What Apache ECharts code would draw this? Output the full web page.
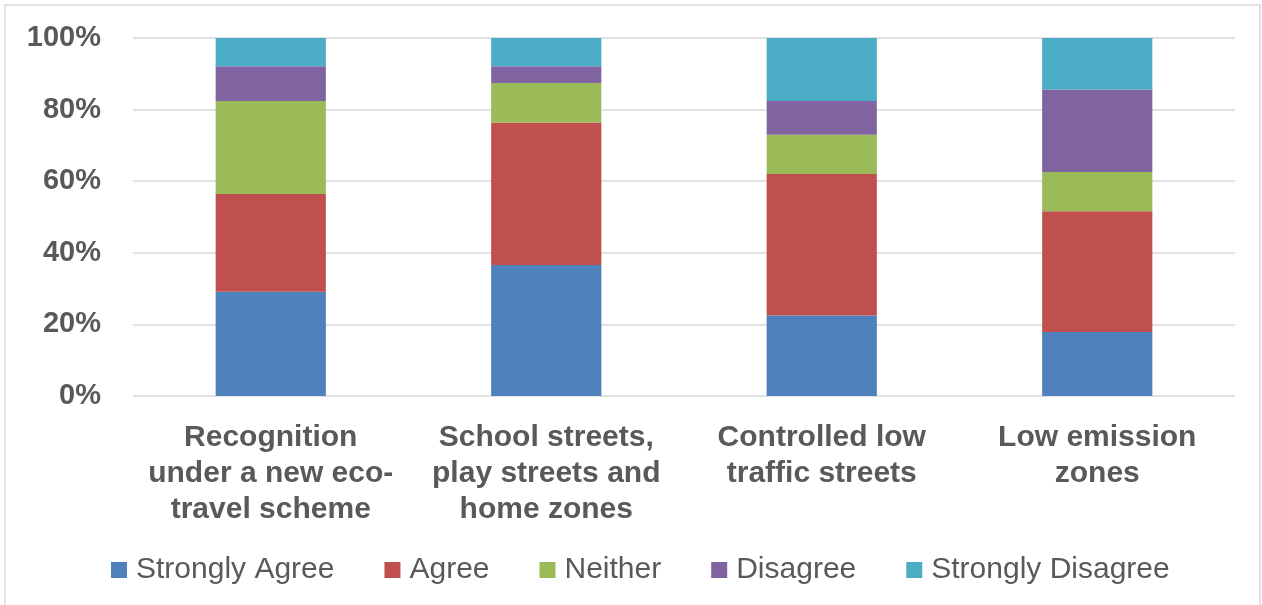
<!DOCTYPE html>
<html>
<head>
<meta charset="utf-8">
<script src="https://cdn.jsdelivr.net/npm/echarts@6/dist/echarts.min.js"></script>
<style>
html,body{margin:0;padding:0;background:#fff;}
#chart{width:1262px;height:605px;}
</style>
</head>
<body>
<div id="chart"></div>
<script>
const categories = [
  "Recognition\nunder a new eco-\ntravel scheme",
  "School streets,\nplay streets and\nhome zones",
  "Controlled low\ntraffic streets",
  "Low emission\nzones"
];
const seriesNames = ["Strongly Agree", "Agree", "Neither", "Disagree", "Strongly Disagree"];
const stronglyAgree = [29.1, 36.6, 22.5, 17.9];
const agree = [27.3, 39.8, 39.5, 33.7];
const neither = [26.0, 11.0, 11.0, 11.0];
const disagree = [9.7, 4.7, 9.4, 23.0];
const stronglyDisagree = [7.9, 7.9, 17.6, 14.4];
const yTicks = [0, 20, 40, 60, 80, 100];

const colors = ["#4F81BD", "#C0504D", "#9BBB59", "#8064A2", "#4BACC6"];
const values = [stronglyAgree, agree, neither, disagree, stronglyDisagree];
const font = "Liberation Sans, Arial, sans-serif";

const chart = echarts.init(document.getElementById('chart'));
chart.setOption({
  animation: false,
  color: colors,
  graphic: [{
    type: 'rect',
    shape: {x: 5, y: 5, width: 1255, height: 620},
    style: {fill: 'none', stroke: '#d9d9d9', lineWidth: 1.5},
    silent: true
  }],
  grid: {left: 133, right: 27, top: 38, bottom: 209},
  legend: {
    data: seriesNames,
    left: 106,
    top: 550,
    itemWidth: 16,
    itemHeight: 16,
    itemGap: 50,
    icon: 'rect',
    textStyle: {fontFamily: font, fontSize: 30, color: '#595959', padding: [0,0,0,4]}
  },
  xAxis: {
    type: 'category',
    data: categories,
    axisLine: {show: false},
    axisTick: {show: false},
    axisLabel: {
      interval: 0,
      margin: 24,
      fontFamily: font,
      fontSize: 30,
      fontWeight: 'bold',
      color: '#595959',
      lineHeight: 36
    }
  },
  yAxis: {
    type: 'value',
    min: yTicks[0],
    max: yTicks[yTicks.length - 1],
    interval: 20,
    axisLine: {show: false},
    axisTick: {show: false},
    axisLabel: {
      formatter: '{value}%',
      margin: 32,
      fontFamily: font,
      fontSize: 29,
      fontWeight: 'bold',
      color: '#595959'
    },
    splitLine: {lineStyle: {color: '#d9d9d9', width: 1.5}}
  },
  series: seriesNames.map((name, i) => ({
    name: name,
    type: 'bar',
    stack: 'total',
    barWidth: '40%',
    data: values[i],
    itemStyle: {color: colors[i]}
  }))
});
</script>
</body>
</html>
